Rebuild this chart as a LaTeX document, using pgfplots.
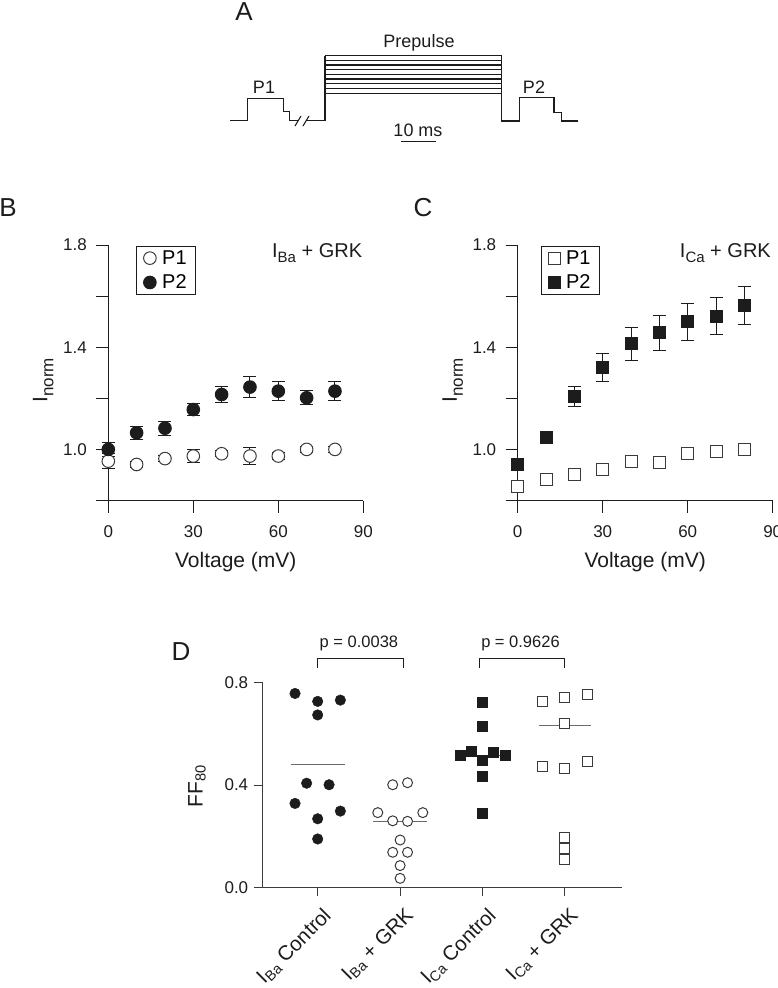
\documentclass[border=0pt]{standalone}
\usepackage{pgfplots}
\usepackage{pgfplotstable}
\pgfplotsset{compat=1.18}
\usepackage{fontspec}
\setmainfont{Liberation Sans}

\definecolor{ink}{HTML}{1C1C1C}
\definecolor{graxis}{HTML}{3C3C3C}
\definecolor{openedge}{HTML}{3A3A3A}
\definecolor{meanline}{HTML}{6A6A6A}
\newcommand{\fs}[1]{\fontsize{#1bp}{#1bp}\selectfont}
% subscript with an explicit size
\newcommand{\sub}[2]{\raisebox{-0.28em}{\fs{#1}#2}}

% normalised current vs prepulse voltage, Ba2+ as charge carrier
\pgfplotstableread{
v   p1     p1e    p2     p2e
0   0.954  0.029  1.000  0.026
10  0.941  0.012  1.065  0.026
20  0.964  0.012  1.083  0.028
30  0.974  0.026  1.156  0.025
40  0.983  0.012  1.215  0.030
50  0.974  0.032  1.244  0.040
60  0.974  0.012  1.228  0.036
70  1.000  0.012  1.202  0.027
80  1.000  0.012  1.228  0.036
}\tableBa

% same protocol, Ca2+ as charge carrier
\pgfplotstableread{
v   p1     p1e    p2     p2e
0   0.854  0.012  0.941  0.015
10  0.883  0.018  1.047  0.018
20  0.900  0.020  1.206  0.039
30  0.923  0.012  1.319  0.055
40  0.952  0.012  1.413  0.065
50  0.950  0.012  1.456  0.067
60  0.984  0.012  1.499  0.074
70  0.991  0.012  1.521  0.073
80  1.000  0.012  1.563  0.076
}\tableCa

\pgfplotsset{
  every non boxed x axis/.style={},
  every non boxed y axis/.style={},
  ivaxis/.style={
    scale only axis, width=255bp, height=255.5bp,
    xmin=0, xmax=90, ymin=0.8, ymax=1.8,
    axis x line=bottom, axis y line=left,
    axis line style={draw=ink, line width=1bp},
    x axis line style={-}, y axis line style={-},
    tick style={draw=ink, line width=1bp},
    tick align=outside, major tick length=12bp,
    xtick={0,30,60,90},
    ytick={0.8,1.0,1.2,1.4,1.6,1.8},
    yticklabels={,1.0,,1.4,,1.8},
    /pgf/number format/assume math mode=true,
    tick label style={font=\fs{17}, text=ink},
    xticklabel style={yshift=-10bp},
    yticklabel style={xshift=-6bp},
    xlabel={Voltage (mV)},
    ylabel={I\sub{17}{norm}},
    label style={font=\fs{21}, text=ink},
    xlabel style={at={(axis description cs:0.5,-0.24)}, anchor=center},
    ylabel style={at={(axis description cs:-0.255,0.47)}, anchor=center},
    clip=false,
    legend cell align=left,
    legend style={draw=ink, line width=1bp, font=\fs{20}, anchor=north west,
      inner xsep=7bp, inner ysep=2bp, row sep=5bp, column sep=4bp},
    legend image code/.code={\draw[##1] plot coordinates {(0bp,0bp)};},
  },
  errs/.style={error bars/.cd, y dir=both, y explicit,
    error bar style={line width=1bp, draw=ink},
    error mark options={rotate=90, mark size=6.5bp, line width=1bp, draw=ink}},
}

\begin{document}
\begin{tikzpicture}
\useasboundingbox (0bp,0bp) rectangle (778bp,-988bp);

% panel letters
\node[font=\fs{26}, text=ink] at (244bp,-12bp) {A};
\node[font=\fs{26}, text=ink] at (8bp,-208bp) {B};
\node[font=\fs{26}, text=ink] at (423bp,-208bp) {C};
\node[font=\fs{26}, text=ink] at (181bp,-652bp) {D};

% ---------- A: voltage protocol ----------
\begin{axis}[at={(220bp,-150bp)}, anchor=south west, scale only axis,
  width=370bp, height=120bp, xmin=220, xmax=590, ymin=30, ymax=150,
  y dir=reverse, axis lines=none, clip=false]
\addplot[ink, line width=1.1bp] coordinates {(230,120.7) (247.3,120.7) (247.3,98.3) (283.3,98.3)
  (283.3,111.7) (289.3,111.7) (289.3,120.7) (298,120.7)};
\addplot[ink, line width=1.1bp] coordinates {(295,126) (301,116)};
\addplot[ink, line width=1.1bp] coordinates {(303,126) (309,116)};
\addplot[ink, line width=1.1bp] coordinates {(306,120.7) (325,120.7) (325,55.7)};
\addplot[ink, line width=1.1bp] coordinates {(501.7,55.7) (501.7,121) (519.3,121) (519.3,97.7)
  (554,97.7) (554,112.3) (561.3,112.3) (561.3,121) (578.3,121)};
% prepulse family
\addplot[ink, line width=1.1bp] coordinates {(325,55.7) (501.7,55.7)};
\addplot[ink, line width=1.1bp] coordinates {(325,60.7) (501.7,60.7)};
\addplot[ink, line width=1.1bp] coordinates {(325,65.0) (501.7,65.0)};
\addplot[ink, line width=1.1bp] coordinates {(325,69.7) (501.7,69.7)};
\addplot[ink, line width=1.1bp] coordinates {(325,74.3) (501.7,74.3)};
\addplot[ink, line width=1.1bp] coordinates {(325,79.0) (501.7,79.0)};
\addplot[ink, line width=1.1bp] coordinates {(325,83.7) (501.7,83.7)};
\addplot[ink, line width=1.1bp] coordinates {(325,88.3) (501.7,88.3)};
\addplot[ink, line width=1.1bp] coordinates {(325,93.7) (501.7,93.7)};
% scale bar
\addplot[ink, line width=1.1bp] coordinates {(401,141.7) (436,141.7)};
\node[font=\fs{18}, text=ink] at (axis cs:419,42.5) {Prepulse};
\node[font=\fs{18}, text=ink] at (axis cs:264,87) {P1};
\node[font=\fs{18}, text=ink] at (axis cs:534,87) {P2};
\node[font=\fs{18}, text=ink] at (axis cs:418,130) {10 ms};
\end{axis}

% ---------- B: I_Ba + GRK ----------
\begin{axis}[ivaxis, at={(108.3bp,-500.5bp)}, anchor=south west,
  legend style={at={(0.109,0.996)}}]
\addplot[only marks, mark=*, mark size=6.3bp, draw=ink,
  mark options={fill=white, draw=openedge, line width=1bp}, errs]
  table[x=v, y=p1, y error=p1e] {\tableBa};
\addlegendentry{P1}
\addplot[only marks, mark=*, mark size=6.3bp, draw=ink,
  mark options={fill=ink, draw=ink, line width=1bp}, errs]
  table[x=v, y=p2, y error=p2e] {\tableBa};
\addlegendentry{P2}
\node[font=\fs{20}, text=ink] at (axis cs:73.7,1.769) {I\sub{15}{Ba} + GRK};
\end{axis}

% ---------- C: I_Ca + GRK ----------
\begin{axis}[ivaxis, at={(517.7bp,-500.5bp)}, anchor=south west,
  legend style={at={(0.09,0.996)}}]
\addplot[only marks, mark=square*, mark size=6bp, draw=ink,
  mark options={fill=white, draw=openedge, line width=1bp}, errs]
  table[x=v, y=p1, y error=p1e] {\tableCa};
\addlegendentry{P1}
\addplot[only marks, mark=square*, mark size=6bp, draw=ink,
  mark options={fill=ink, draw=ink, line width=1bp}, errs]
  table[x=v, y=p2, y error=p2e] {\tableCa};
\addlegendentry{P2}
\node[font=\fs{20}, text=ink] at (axis cs:73.3,1.769) {I\sub{15}{Ca} + GRK};
\end{axis}

% ---------- D: FF80 per cell ----------
\begin{axis}[at={(262.7bp,-887.3bp)}, anchor=south west, scale only axis,
  width=359bp, height=204.6bp,
  xmin=-0.667, xmax=3.688, ymin=0, ymax=0.8,
  axis x line=bottom, axis y line=left,
  axis line style={draw=graxis, line width=1bp},
  x axis line style={-}, y axis line style={-},
  tick style={draw=graxis, line width=1bp},
  tick align=outside, major tick length=9bp,
  xtick={0,1,2,3},
  xticklabels={I\textsubscript{Ba} Control, I\textsubscript{Ba} + GRK, I\textsubscript{Ca} Control, I\textsubscript{Ca} + GRK},
  ytick={0,0.4,0.8}, yticklabels={0.0,0.4,0.8},
  /pgf/number format/assume math mode=true,
  yticklabel style={font=\fs{17}, text=ink, xshift=-2bp},
  xticklabel style={font=\fs{20.5}, text=ink, xshift=4bp, yshift=-5bp, rotate=45, anchor=north east},
  ylabel={FF\textsubscript{80}},
  ylabel style={font=\fs{21}, text=ink, at={(axis description cs:-0.183,0.495)}, anchor=center},
  clip=false]
% group means
\addplot[meanline, line width=1.3bp] coordinates {(-0.326,0.479) (0.326,0.479)};
\addplot[meanline, line width=1.3bp] coordinates {(0.675,0.257) (1.325,0.257)};
\addplot[meanline, line width=1.3bp] coordinates {(1.675,0.515) (2.325,0.515)};
\addplot[meanline, line width=1.3bp] coordinates {(2.68,0.634) (3.32,0.634)};
% I_Ba control
\addplot[only marks, mark=*, mark size=5.3bp, mark options={fill=ink, draw=ink}] coordinates {
  (-0.275,0.758) (0,0.727) (0.275,0.732) (0,0.674) (-0.134,0.407) (0.138,0.401)
  (-0.275,0.328) (0.275,0.298) (0,0.268) (0,0.189)};
% I_Ba + GRK
\addplot[only marks, mark=*, mark size=5bp, mark options={fill=white, draw=openedge, line width=1bp}] coordinates {
  (0.91,0.401) (1.09,0.409) (0.729,0.292) (0.91,0.260) (1.09,0.258) (1.275,0.292)
  (1,0.185) (0.91,0.137) (1.09,0.137) (1,0.085) (1,0.035)};
% I_Ca control
\addplot[only marks, mark=square*, mark size=5bp, mark options={fill=ink, draw=ink}] coordinates {
  (2,0.724) (2,0.630) (1.725,0.515) (1.858,0.531) (2.13,0.528) (2.271,0.515)
  (2,0.496) (2,0.435) (2,0.290)};
% I_Ca + GRK
\addplot[only marks, mark=square*, mark size=5bp, mark options={fill=white, draw=openedge, line width=1bp}] coordinates {
  (2.729,0.728) (3,0.741) (3.271,0.753) (3,0.639) (2.729,0.472) (3,0.466)
  (3.271,0.492) (3,0.195) (3,0.151) (3,0.109)};
% significance brackets
\addplot[ink, line width=1bp] coordinates {(0,0.856) (0,0.895) (1.04,0.895) (1.04,0.856)};
\addplot[ink, line width=1bp] coordinates {(1.96,0.856) (1.96,0.895) (3.0,0.895) (3.0,0.856)};
\node[font=\fs{16.5}, text=ink] at (axis cs:0.5,0.955) {p = 0.0038};
\node[font=\fs{16.5}, text=ink] at (axis cs:2.46,0.955) {p = 0.9626};
\end{axis}
\end{tikzpicture}
\end{document}
